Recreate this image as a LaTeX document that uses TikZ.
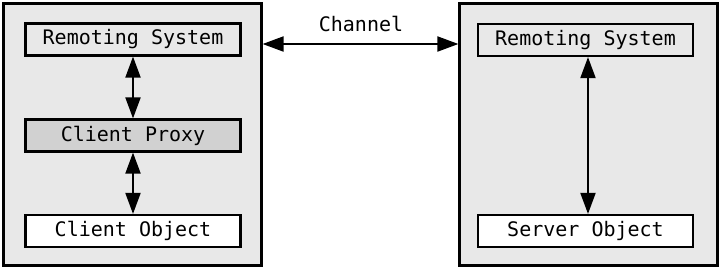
\documentclass[tikz,border=0pt]{standalone}
\usepackage{fontspec}
\setmonofont{DejaVu Sans Mono}
\usetikzlibrary{arrows.meta,positioning}
\definecolor{panelgray}{gray}{0.91}
\definecolor{proxygray}{gray}{0.82}
\tikzset{
  panel/.style={draw,line width=2.2pt,fill=panelgray,minimum width=258pt,minimum height=262pt,inner sep=0pt},
  part/.style={draw,line width=2.2pt,minimum width=215pt,minimum height=32pt,inner sep=0pt,
    font=\ttfamily\fontsize{20}{23}\selectfont},
  link/.style={line width=2pt,{Triangle[length=21pt,width=15pt]}-{Triangle[length=21pt,width=15pt]}},
}

\begin{document}
\begin{tikzpicture}[x=1pt,y=-1pt]
        \useasboundingbox (0,0) rectangle (721,269);
        \node[panel] (client) at (132.5,134.5) {};
        \node[panel] (server) at (588.5,134.5) {};
        \node[part,fill=panelgray] (clientrs) at (133,39.5) {Remoting System};
        \node[part,fill=proxygray] (proxy) at (133,135.5) {Client Proxy};
        \node[part,fill=white] (clientobj) at (133,231) {Client Object};
        \node[part,fill=panelgray] (serverrs) at (585.5,40) {Remoting System};
        \node[part,fill=white] (serverobj) at (585.5,231) {Server Object};
        \node[font=\ttfamily\fontsize{20}{23}\selectfont] (channel) at (361,24) {Channel};
        \coordinate (chanleft) at (client.east |- 0,44);
        \coordinate (chanright) at (server.west |- 0,44);
        \draw[link] (chanleft) -- (chanright);
        \draw[link] (clientrs) -- (proxy);
        \draw[link] (proxy) -- (clientobj);
        \draw[link] (serverrs.south -| 588,0) -- (serverobj.north -| 588,0);
    \end{tikzpicture}
\end{document}
